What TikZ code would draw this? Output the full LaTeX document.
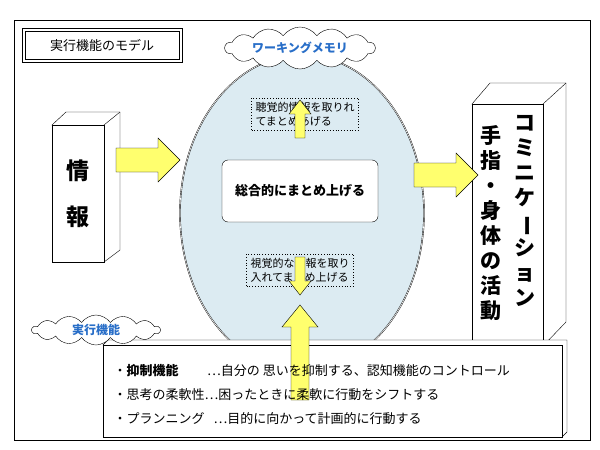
\documentclass[tikz,border=0pt]{standalone}
\usepackage{fontspec}
\setmainfont{Noto Sans CJK JP}
\usetikzlibrary{shapes,shapes.symbols,positioning,calc}
\definecolor{memblue}{RGB}{220,235,242}
\definecolor{arrowyel}{RGB}{255,255,110}
\definecolor{cloudtxt}{RGB}{40,110,200}
\tikzstyle{dotbox}=[draw,dotted,thick,align=left,font=\fontsize{11}{14}\selectfont,inner sep=4pt]
\tikzstyle{bubble}=[cloud,cloud puffs=14,cloud puff arc=110,draw,fill=white,aspect=5,inner sep=0pt,text=cloudtxt,font=\bfseries\fontsize{12}{14}\selectfont]
\tikzstyle{vtext}=[align=center,font=\bfseries\fontsize{21}{25}\selectfont]
\tikzstyle{listline}=[anchor=west,font=\fontsize{13}{15}\selectfont]
% fat arrow: length, shaft half width, head half width, head length
\tikzset{
  fatarrow/.pic={
    \draw [fill=arrowyel] (0,-\sw) -- (\al-\hl,-\sw) -- (\al-\hl,-\hw) -- (\al,0)
      -- (\al-\hl,\hw) -- (\al-\hl,\sw) -- (0,\sw) -- cycle;
  }
}
\newcommand{\al}{64}\newcommand{\sw}{12}\newcommand{\hw}{22}\newcommand{\hl}{24}

\begin{document}
\begin{tikzpicture}[x=1pt,y=-1pt]
  \useasboundingbox (0,0) rectangle (600,450);
  \node [draw,minimum width=576pt,minimum height=420pt,anchor=north west] (frame) at (14,20) {};

  % Title
  \node [draw,minimum width=160pt,minimum height=34pt,anchor=north west] (title) at (22,28) {};
  \node [draw,minimum width=154pt,minimum height=28pt,font=\fontsize{13}{15}\selectfont] (ttext) at (title.center) {実行機能のモデル};

  % Working memory
  \node [draw,double,fill=memblue,ellipse,minimum width=244pt,minimum height=316pt] (mem) at (302,213) {};
  \node [bubble,minimum width=150pt,minimum height=26pt] (wm) at (300,48) {ワーキングメモリ};
  \node [dotbox] (hear) at (305,114) {聴覚的情報を取りれ\\てまとめあげる};
  \node [draw,rounded corners=6pt,fill=white,minimum width=156pt,minimum height=62pt,font=\bfseries\fontsize{13}{15}\selectfont] (sum) at (300,191) {総合的にまとめ上げる};
  \node [dotbox] (see) at (300,270) {視覚的な情報を取り\\入れてまとめ上げる};
  \renewcommand{\al}{38}\renewcommand{\sw}{5}\renewcommand{\hw}{11}\renewcommand{\hl}{14}
  \pic [rotate=90] at (300,138) {fatarrow};
  \pic [rotate=-90] at (300,257) {fatarrow};

  % Input
  \draw [fill=white] (52,125) -- (66,112) -- (120,112) -- (120,250) -- (104,262) -- cycle;
  \node [draw,fill=white,minimum width=52pt,minimum height=137pt,anchor=north west] (info) at (52,125) {};
  \draw (104,125) -- (120,112);
  \node [vtext,font=\bfseries\fontsize{23}{46}\selectfont] (infot) at (info.center) {情\\報};
  \renewcommand{\al}{64}\renewcommand{\sw}{12}\renewcommand{\hw}{22}\renewcommand{\hl}{22}
  \pic at (116,160) {fatarrow};

  % Output
  \draw [fill=white] (472,104) -- (490,83) -- (566,83) -- (566,322) -- (543,346) -- cycle;
  \node [draw,fill=white,minimum width=71pt,minimum height=242pt,anchor=north west] (act) at (472,104) {};
  \draw (543,104) -- (566,83);
  \node [vtext,anchor=north] (col1) at (525,112) {コ\\ミ\\ニ\\ケ\\\rotatebox[origin=c]{-90}{ー}\\シ\\ョ\\ン};
  \node [vtext,anchor=north] (col2) at (491,122) {手\\指\\・\\身\\体\\の\\活\\動};
  \pic at (414,175) {fatarrow};

  % Executive function
  \draw [fill=white] (103,345) -- (108,340) -- (567,340) -- (567,432) -- (562,437) -- cycle;
  \node [draw,fill=white,minimum width=459pt,minimum height=92pt,anchor=north west] (exec) at (103,345) {};
  \node [bubble,minimum width=128pt,minimum height=30pt] (ef) at (96,330) {実行機能};
  \renewcommand{\al}{95}\renewcommand{\sw}{9}\renewcommand{\hw}{18}\renewcommand{\hl}{22}
  \pic [rotate=90] at (300,400) {fatarrow};
  \node [listline] (l1) at (110,371) {・\textbf{抑制機能}\hspace{2.2em}…自分の 思いを抑制する、認知機能のコントロール};
  \node [listline] (l2) at (110,395) {・思考の柔軟性…困ったときに柔軟に行動をシフトする};
  \node [listline] (l3) at (110,419) {・プランニング\hspace{0.7em}…目的に向かって計画的に行動する};
\end{tikzpicture}
\end{document}
